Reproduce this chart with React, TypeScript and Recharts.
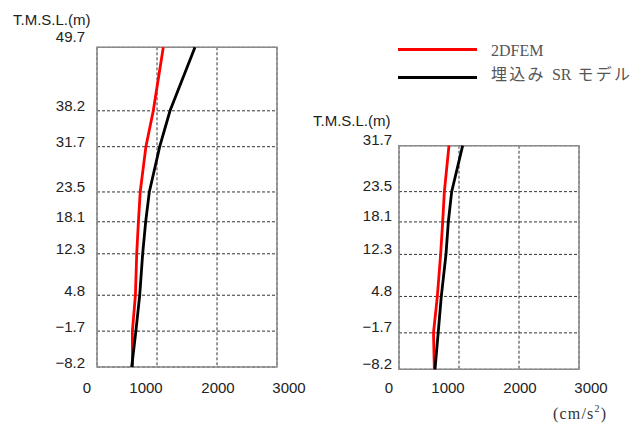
import React from "react";
import {
  LineChart,
  Line,
  XAxis,
  YAxis,
  CartesianGrid,
  ReferenceArea,
} from "recharts";

// acceleration axis (cm/s2)
const accelTicks = [0, 1000, 2000, 3000];

// left panel: full depth profile
const leftElev = [49.7, 38.2, 31.7, 23.5, 18.1, 12.3, 4.8, -1.7, -8.2];
const leftFem = [1105, 938, 815, 720, 690, 662, 640, 590, 592];
const leftSr = [1633, 1217, 1045, 872, 811, 761, 712, 648, 578];

// right panel: building embedment part
const rightElev = [31.7, 23.5, 18.1, 12.3, 4.8, -1.7, -8.2];
const rightFem = [833, 756, 728, 694, 639, 575, 589];
const rightSr = [1061, 878, 822, 783, 705, 653, 600];

const seriesNames = ["2DFEM", "埋込み SR モデル"];

const numFont = "'Liberation Sans', Arial, sans-serif";
const jpFont = "'Liberation Serif', 'Noto Sans CJK JP', serif";
// the original labels sit a bit off their ticks
const xNudge = [-10, -11, 1, 12];

function fmt(v: number) {
  return String(v).replace("-", "\u2212");
}

function Panel(props: any) {
  const { elev, fem, sr, left, top, width, height, margin, yWidth, labelGap, labelDy, topDy, xDrop } = props;
  const data = elev.map((e: number, i: number) => ({ elev: e, fem: fem[i], sr: sr[i] }));
  const yMin = elev[elev.length - 1];
  const yMax = elev[0];

  return (
    <div style={{ position: "absolute", left, top }}>
      <LineChart width={width} height={height} data={data} layout="vertical" margin={margin}>
        <CartesianGrid stroke="#333" strokeDasharray="3 2" strokeWidth={1} />
        <XAxis
          type="number"
          domain={[0, 3000]}
          ticks={accelTicks}
          axisLine={false}
          tickLine={false}
          tickSize={0}
          tickMargin={0}
          height={30}
          interval={0}
          tick={(p: any) => (
            <text
              x={p.x + xNudge[p.index]}
              y={p.y + xDrop}
              textAnchor="middle"
              dominantBaseline="central"
              fontSize={15}
              fontFamily={numFont}
              fill="#222"
            >
              {p.payload.value}
            </text>
          )}
        />
        <YAxis
          type="number"
          dataKey="elev"
          domain={[yMin, yMax]}
          ticks={elev}
          reversed
          axisLine={false}
          tickLine={false}
          tickSize={0}
          tickMargin={0}
          width={yWidth}
          interval={0}
          tick={(p: any) => (
            <text
              x={p.x - labelGap}
              y={p.y + (p.index === 0 ? topDy : labelDy)}
              textAnchor="end"
              dominantBaseline="central"
              fontSize={15}
              fontFamily={numFont}
              fill="#222"
            >
              {fmt(p.payload.value)}
            </text>
          )}
        />
        <ReferenceArea
          x1={0}
          x2={3000}
          y1={yMin}
          y2={yMax}
          fill="none"
          stroke="#8a8a8a"
          strokeWidth={1.5}
        />
        <Line
          dataKey="fem"
          stroke="#ff0000"
          strokeWidth={2.8}
          dot={false}
          isAnimationActive={false}
        />
        <Line
          dataKey="sr"
          stroke="#000"
          strokeWidth={2.8}
          dot={false}
          isAnimationActive={false}
        />
      </LineChart>
    </div>
  );
}

export default function App() {
  const label: React.CSSProperties = {
    position: "absolute",
    fontFamily: numFont,
    fontSize: 15,
    color: "#222",
    whiteSpace: "nowrap",
    lineHeight: "18px",
  };
  const legendText: React.CSSProperties = {
    position: "absolute",
    left: 491,
    fontFamily: jpFont,
    fontSize: 16,
    color: "#555",
    whiteSpace: "nowrap",
    lineHeight: "20px",
  };
  const [jpHead, latinMid, jpTail] = seriesNames[1].split(" ");

  return (
    <div
      style={{
        position: "absolute",
        left: 0,
        top: 0,
        width: 644,
        height: 424,
        overflow: "hidden",
        background: "#fff",
      }}
    >
      <Panel
        elev={leftElev}
        fem={leftFem}
        sr={leftSr}
        left={0}
        top={0}
        width={320}
        height={400}
        margin={{ top: 47.3, right: 43, bottom: 3, left: 0 }}
        yWidth={97}
        labelGap={12}
        labelDy={-5}
        topDy={-11}
        xDrop={20.7}
      />
      <Panel
        elev={rightElev}
        fem={rightFem}
        sr={rightSr}
        left={300}
        top={100}
        width={320}
        height={300}
        margin={{ top: 45.7, right: 41, bottom: 0.7, left: 0 }}
        yWidth={99}
        labelGap={7}
        labelDy={-6}
        topDy={-6.4}
        xDrop={18.4}
      />

      <div style={{ ...label, left: 13, top: 10.5 }}>T.M.S.L.(m)</div>
      <div style={{ ...label, left: 313, top: 111.7 }}>T.M.S.L.(m)</div>

      {/* legend */}
      <div style={{ position: "absolute", left: 398, top: 48, width: 79, height: 3, background: "#ff0000" }} />
      <div style={{ position: "absolute", left: 398, top: 76, width: 79, height: 3, background: "#000" }} />
      <div style={{ ...legendText, top: 40.7 }}>{seriesNames[0]}</div>
      <div style={{ ...legendText, top: 65 }}>
        <span style={{ letterSpacing: 2.3 }}>{jpHead}</span>
        <span style={{ marginLeft: 6 }}>{latinMid}</span>
        <span style={{ marginLeft: 6, letterSpacing: 2.3 }}>{jpTail}</span>
      </div>

      <div
        style={{
          position: "absolute",
          left: 553,
          top: 404,
          fontFamily: jpFont,
          fontSize: 16,
          color: "#333",
          whiteSpace: "nowrap",
          lineHeight: "20px",
          letterSpacing: 1.2,
        }}
      >
        (cm/s<sup style={{ fontSize: 10, verticalAlign: "7px", lineHeight: 0 }}>2</sup>)
      </div>
    </div>
  );
}
